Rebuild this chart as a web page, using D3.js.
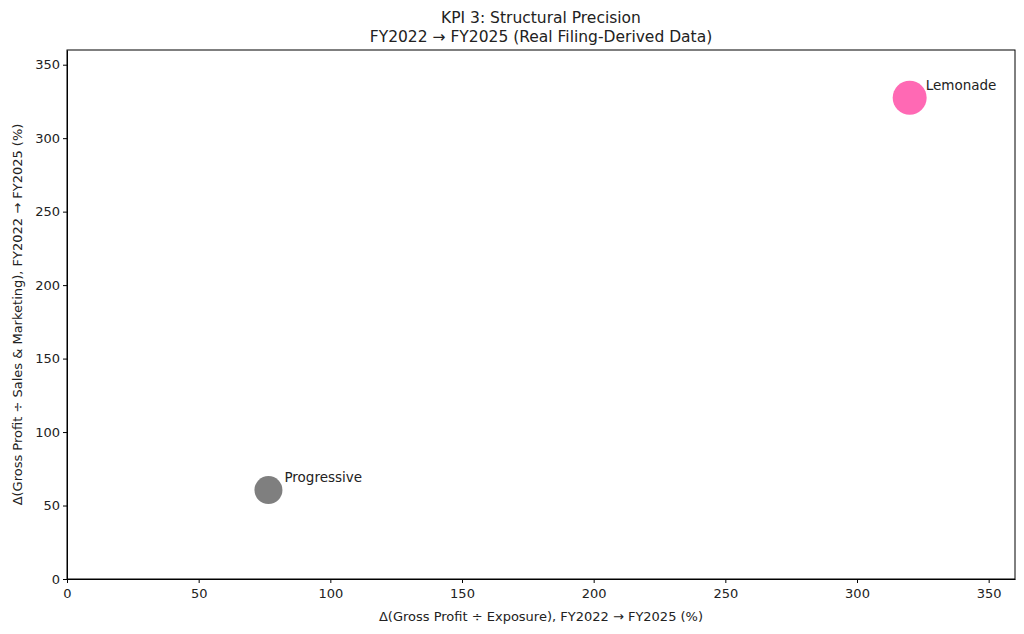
<!DOCTYPE html>
<html>
<head>
<meta charset="utf-8">
<script src="https://cdn.jsdelivr.net/npm/d3@7"></script>
<style>
body { margin: 0; background: #fff; }
text { font-family: "DejaVu Sans", sans-serif; fill: #222; }
</style>
</head>
<body>
<svg id="chart" width="1024" height="634"></svg>
<script>
// data
const companies = ["Progressive", "Lemonade"];
const xValues = [76.5, 320];
const yValues = [60.5, 327.5];
const sizes = [14, 17];
const colors = ["#7f7f7f", "#ff69b4"];
const ticks = [0, 50, 100, 150, 200, 250, 300, 350];

const margin = {left: 67, right: 9, top: 50, bottom: 55};
const width = 1024, height = 634;

const svg = d3.select("#chart");

const x = d3.scaleLinear().domain([0, 360]).range([margin.left, width - margin.right]);
const y = d3.scaleLinear().domain([0, 360]).range([height - margin.bottom, margin.top]);

svg.append("g")
    .attr("transform", "translate(0," + (height - margin.bottom) + ")")
    .call(d3.axisBottom(x).tickValues(ticks).tickSize(4).tickSizeOuter(0))
    .call(g => g.selectAll("text").attr("font-size", 13).attr("dy", "0.9em"));

svg.append("g")
    .attr("transform", "translate(" + margin.left + ",0)")
    .call(d3.axisLeft(y).tickValues(ticks).tickSize(4).tickSizeOuter(0))
    .call(g => g.selectAll("text").attr("font-size", 13));

svg.append("rect")
    .attr("x", margin.left).attr("y", margin.top)
    .attr("width", width - margin.left - margin.right)
    .attr("height", height - margin.top - margin.bottom)
    .attr("fill", "none").attr("stroke", "#000").attr("stroke-width", 1);

const pts = companies.map((c, i) => ({name: c, x: xValues[i], y: yValues[i], r: sizes[i], color: colors[i]}));

svg.selectAll(".dot")
    .data(pts)
    .enter()
    .append("circle")
    .attr("class", "dot")
    .attr("cx", d => x(d.x))
    .attr("cy", d => y(d.y))
    .attr("r", d => d.r)
    .attr("fill", d => d.color);

svg.selectAll(".lbl")
    .data(pts)
    .enter()
    .append("text")
    .attr("class", "lbl")
    .attr("x", d => x(d.x) + 16)
    .attr("y", d => y(d.y) - 8)
    .attr("font-size", 13.5)
    .text(d => d.name);

svg.append("text")
    .attr("x", (margin.left + width - margin.right) / 2).attr("y", 23)
    .attr("text-anchor", "middle").attr("font-size", 15.5)
    .text("KPI 3: Structural Precision");
svg.append("text")
    .attr("x", (margin.left + width - margin.right) / 2).attr("y", 42)
    .attr("text-anchor", "middle").attr("font-size", 15.5)
    .text("FY2022 → FY2025 (Real Filing-Derived Data)");

svg.append("text")
    .attr("x", (margin.left + width - margin.right) / 2).attr("y", 621)
    .attr("text-anchor", "middle").attr("font-size", 13)
    .text("Δ(Gross Profit ÷ Exposure), FY2022 → FY2025 (%)");

svg.append("text")
    .attr("transform", "translate(22," + ((margin.top + height - margin.bottom) / 2) + ") rotate(-90)")
    .attr("text-anchor", "middle").attr("font-size", 13)
    .text("Δ(Gross Profit ÷ Sales & Marketing), FY2022 → FY2025 (%)");
</script>
</body>
</html>
